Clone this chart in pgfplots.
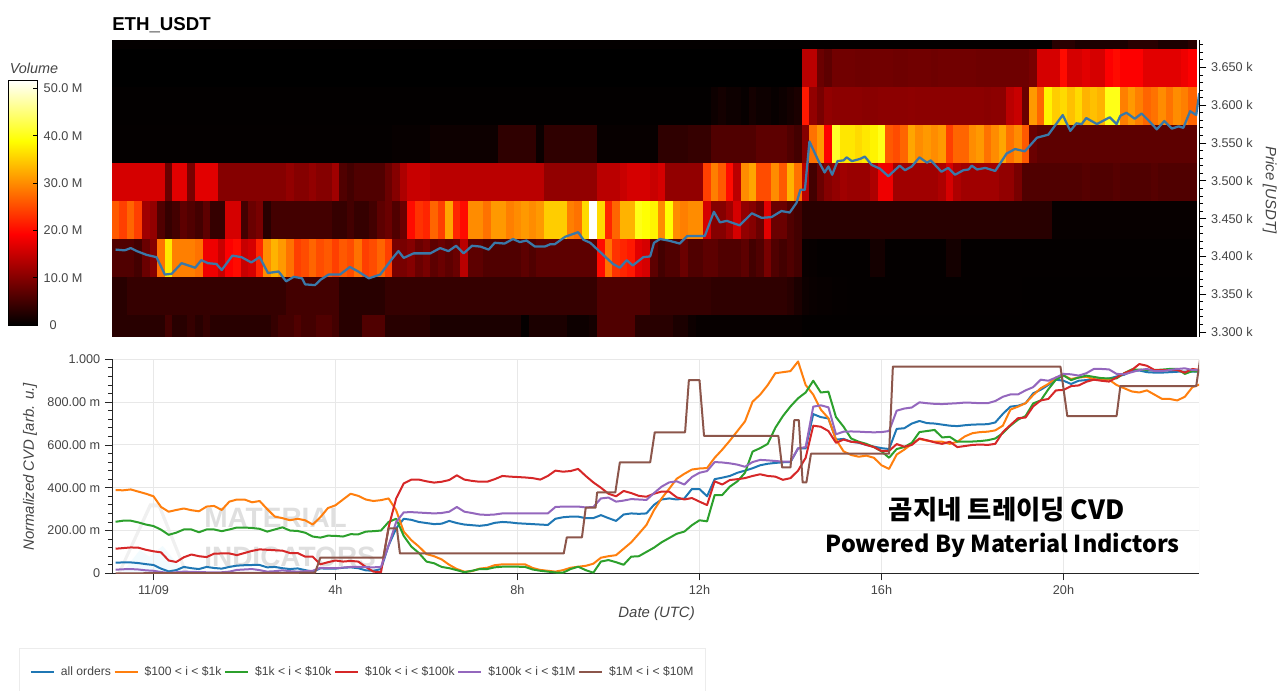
\documentclass[border=0pt]{standalone}
\usepackage{pgfplots}
\usepackage{pgfplotstable}
\pgfplotsset{compat=1.18}
\usepackage{fontspec}
\setmainfont{Liberation Sans}
\newfontfamily\krfont{Noto Sans CJK KR}
\definecolor{txt}{HTML}{444444}
\definecolor{gridc}{HTML}{E8E8E8}
\definecolor{cblue}{HTML}{1F77B4}
\definecolor{corange}{HTML}{FF7F0E}
\definecolor{cgreen}{HTML}{2CA02C}
\definecolor{cred}{HTML}{D62728}
\definecolor{cpurple}{HTML}{9467BD}
\definecolor{cbrown}{HTML}{8C564B}
\definecolor{cprice}{HTML}{3A78A8}
\pgfdeclareplotmark{cell}{\pgfpathrectangle{\pgfpoint{-2.85pt}{-14.2pt}}{\pgfpoint{5.7pt}{28.4pt}}\pgfusepathqfillstroke}
\pgfdeclareplotmark{cellT}{\pgfpathrectangle{\pgfpoint{-2.85pt}{-3.5pt}}{\pgfpoint{5.7pt}{7pt}}\pgfusepathqfillstroke}
\pgfdeclareplotmark{cellH}{\pgfpathrectangle{\pgfpoint{-2.85pt}{-8pt}}{\pgfpoint{5.7pt}{16pt}}\pgfusepathqfillstroke}
\newcommand{\tl}{\fontsize{9.5}{11}\selectfont}
\newcommand{\al}{\fontsize{11.2}{13}\selectfont}
\pgfplotsset{colormap={hot}{rgb255(0)=(0,0,0) rgb255(37)=(255,0,0) rgb255(75)=(255,255,0) rgb255(100)=(255,255,255)}}
\pgfplotsset{heatcell/.style={scatter,only marks,mark=cell,mark options={line width=0.2pt},point meta=explicit,scatter/use mapped color={draw=mapped color,fill=mapped color}}}
% heat map: minutes from 11/09 00:00, volume (M) in each price band, top to bottom
\pgfplotstableread{
m T A B C D E F G H
-50 .3 0 .2 .3 16 26 6 3 3
-40 .3 0 .2 .3 16 24 6 3 3
-30 .3 0 .2 .3 16 27 6 4 3
-20 .3 0 .2 .3 16 24 5 4 3
-10 .3 0 .2 .3 16 12 8 4 3
0 .3 0 .2 .3 16 11 10 4 3
10 .3 0 .2 .3 16 6 28 4 3
20 .3 0 .2 .3 8 4 37 4 5
30 .3 0 .2 .3 17 5 29 4 3
40 .3 0 .2 .3 17 7 29 4 3
50 .3 0 .2 .3 9 6 29 4 4
60 .3 0 .2 .3 17 5 28 4 3
70 .3 0 .2 .3 17 7 18 4 4
80 .3 0 .2 .3 17 4 18 4 3
90 .3 0 .2 .3 10 4 15 4 3
100 .3 0 .2 .3 10 16 19 4 3
110 .3 0 .2 .3 10 16 20 4 3
120 .3 0 .2 .3 10 5 15 4 3
130 .3 0 .2 .3 10 8 16 4 3
140 .3 0 .2 .3 10 9 22 4 3
150 .3 0 .2 .3 10 3 30 4 3
160 .3 0 .2 .3 10 5 33 4 4
170 .3 0 .2 .3 10 5 31 4 5
180 .3 0 .2 .3 11 5 28 5 5
190 .3 0 .2 .3 10 5 24 5 6
200 .3 0 .2 .3 10 5 25 5 5
210 .3 0 .2 .3 11 5 27 5 5
220 .3 0 .2 .3 10 5 25 5 6
230 .3 0 .2 .3 10 5 26 5 6
240 .3 0 .2 .3 12 4 24 5 5
250 .3 0 .2 .3 6 4 26 3 3
260 .3 0 .2 .3 5 5 25 3 3
270 .3 0 .2 .3 6 4 28 3 3
280 .3 0 .2 .3 6 4 24 3 6
290 .3 0 .2 .3 6 5 25 3 6
300 .3 0 .2 .3 6 7 27 3 6
310 .3 0 .2 .3 8 8 24 4 3
320 .3 0 .2 .5 10 6 9 4 3
330 .3 0 .2 .5 13 8 9 4 3
340 .3 0 .2 .5 15 20 10 4 3
350 .3 0 .2 .5 15 23 8 4 3
360 .3 0 .2 .5 15 22 9 4 3
370 .3 0 .2 1 14 27 7 4 2
380 .3 0 .2 1 14 24 8 4 2
390 .3 0 .2 1 14 32 7 4 2
400 .3 0 .2 1 14 22 8 4 2
410 .3 0 .2 1 14 20 14 4 2
420 .3 0 .2 1 14 30 7 4 2
430 .3 0 .2 1 14 30 7 4 2
440 .3 0 .2 1 14 28 6 4 2
450 .3 0 .2 1 14 31 6 4 2
460 .3 0 .2 3.5 14 31 6 4 2
470 .3 0 .2 3.5 14 29 6 4 2
480 .3 0 .2 3.5 14 30 6 4 2
490 .3 0 .2 3.5 14 31 7 4 .3
500 .3 0 .2 3.5 14 30 6 4 2
510 .3 0 .2 .8 14 31 7 4 2
520 .3 0 .2 3.5 11 35 7 4 2
530 .3 0 .2 3.5 11 35 7 4 2
540 .3 0 .2 3.5 11 35 7 4 2
550 .3 0 .2 3.5 11 29 7 4 1
560 .3 0 .2 3.5 11 28 7 4 1
570 .3 0 .2 3.5 11 36 7 4 1
580 .3 0 .2 3.5 11 52 7 4 1.5
590 .3 0 .2 .5 14 36 20 6 6
600 .3 0 .2 .5 14 22 28 6 6
610 .3 0 .2 .5 14 27 23 6 6
620 .3 0 .2 .5 15 33 22 6 6
630 .3 0 .2 .5 16 33 21 6 6
640 .3 0 .2 .5 16 40 17 6 3
650 .3 0 .2 .5 16 39 16 6 3
660 .3 0 .2 .5 15 38 7 4 3
670 .3 0 .2 3.5 16 30 5 4 3
680 .3 0 .2 3.5 11 39 6 4 3
690 .3 0 .2 3.5 11 30 6 4 2
700 .3 0 .2 3.5 11 29 8 4 2
710 .3 0 .2 4 11 30 6 4 1
720 .3 0 .2 4 11 30 6 4 .5
730 .3 0 .2 4 24 16 7 4 .5
740 .3 0 1 6 29 10 7 3.5 .5
750 .3 0 1.5 6 26 10 6 3.5 .5
760 .3 0 1 6 20 12 6 3.5 .5
770 .3 0 1 6 14 16 6 3.5 .5
780 .3 0 .5 6 30 11 7 3.5 .5
790 .3 0 1.5 6 32 10 5 3.5 .5
800 .3 0 1 7 25 8 6 3.5 .5
810 .3 0 1 7 25 17 9 3.5 .5
820 .3 0 .5 7 30 8 6 3.5 .5
830 .3 0 1 7 26 8 5 3.5 .5
840 .3 0 1.5 6 33 6 6 3 .5
850 .3 0 2 5 28 5 5 2 .5
860 .3 14 21 10 14 3 .7 1 .2
870 .3 14 11 28 5 3 .5 .7 .2
880 .3 8 9 31 8 3 .3 .5 .2
890 .3 7 11 19 10 3 .3 .5 .2
900 .3 8.5 10.5 41 11 3 .3 .4 .2
910 .3 8.5 10.5 37 12 3 .3 .4 .2
920 .3 8.5 10.5 37 11.5 3 .3 .3 .2
930 .3 8.3 10.5 36 11.5 3 .3 .3 .2
940 .3 8.3 10.3 37 11.5 3 .3 .3 .2
950 .3 8.5 10.3 38 13 3 1.5 .3 .2
960 .3 8.5 10.5 40 18 3 1.5 .3 .2
970 .3 8.5 10.5 26 18 3 .3 .3 .2
980 .3 8.3 10.5 25 12 3 .3 .3 .2
990 .3 8.3 10.5 27 12 3 .3 .3 .2
1000 .3 8.5 10.7 32 12 3 .3 .3 .2
1010 .3 8.5 10.5 30 12 3 .3 .3 .2
1020 .3 8.5 10.5 31 12 3 .3 .3 .2
1030 .3 8.3 10.5 30 12 3 .3 .3 .2
1040 .3 8.5 10.5 31 13 3 .3 .3 .2
1050 .3 8.5 10.5 24 16 3 1.5 .3 .2
1060 .3 8.5 10.5 27 13 3 1.5 .3 .2
1070 .3 8.5 10.5 27 12 3 .3 .3 .2
1080 .3 8.5 10.5 30 12 3 .3 .3 .2
1090 .3 8.3 10.5 31 12 3 .3 .3 .2
1100 .3 8.3 10.3 28 12 3 .3 .3 .2
1110 .3 8.3 10.5 30 12 3 .3 .3 .2
1120 .3 8.3 10.5 32 11 3 .3 .3 .2
1130 .3 8.3 14 28 11 3 .3 .3 .2
1140 .3 8.3 15 30 9 3 .3 .3 .2
1150 .3 8.3 8 26 6 3 .3 .2 .2
1160 .3 9 31 8 6 3 .3 .2 .2
1170 .3 16 27 7 6 3 .3 .2 .2
1180 .3 16 38 7 6 3 .3 .2 .2
1190 3 16 35 7 6 .5 .3 .2 .2
1200 3 20 36 7 6 .5 .3 .2 .2
1210 3 16 34 7 6 .5 .3 .2 .2
1220 2 16 36 7 6 .5 .3 .2 .2
1230 2 17 33 7 6.5 .5 .3 .2 .2
1240 2 16 34 7 6 .5 .3 .2 .2
1250 2 16 33 7 6 .5 .3 .2 .2
1260 2 19 40 7 6 .5 .3 .2 .2
1270 2 20 40 7 6.5 .5 .3 .2 .2
1280 2 19 29 7 6 .5 .3 .2 .2
1290 3 19 31 7 6 .5 .3 .2 .2
1300 3 19 29 7 6 .5 .3 .2 .2
1310 3 17 27 7 6 .5 .3 .2 .2
1320 3 17 28 7 6.5 .5 .3 .2 .2
1330 2 17 30 7 6 .5 .3 .2 .2
1340 2 17 28 7 6 .5 .3 .2 .2
1350 2 17 30 7 6 .5 .3 .2 .2
1360 2 18 29 7 6 .5 .3 .2 .2
1370 3 19 27 7 6 .5 .3 .2 .2
}\heat
% normalized CVD (milli units)
\pgfplotstableread{
m b o g r p
-50 50 389 241 115 17
-40 51 388 246 118 19
-30 51 392 246 121 20
-20 48 382 238 120 18
-10 43 372 228 110 14
0 39 360 221 103 12
10 22 310 204 98 6
20 9 288 180 60 2
30 15 296 190 53 5
40 30 303 205 75 8
50 24 295 205 88 7
60 20 290 192 80 6
70 30 312 205 76 5
80 25 315 205 92 5
90 22 296 197 93 5
100 30 335 205 93 8
110 36 345 214 85 16
120 38 345 214 95 18
130 39 332 212 105 20
140 39 338 208 112 15
150 28 300 195 110 8
160 30 265 205 108 10
170 24 258 215 106 14
180 20 248 200 95 10
190 23 255 198 95 8
200 15 248 190 78 10
210 8 228 172 78 12
220 23 262 167 42 26
230 22 305 176 52 24
240 22 318 175 60 24
250 26 345 172 55 27
260 28 372 183 58 30
270 24 362 182 55 30
280 14 345 195 30 29
290 12 338 197 8 28
300 20 342 200 5 30
310 130 350 240 215 130
320 210 295 255 350 240
330 255 195 175 420 285
340 250 155 125 438 286
350 240 125 95 438 284
360 235 90 55 430 282
370 230 80 47 424 280
380 232 65 30 428 282
390 245 40 24 436 288
400 235 20 15 458 310
410 228 8 5 438 288
420 225 10 12 432 282
430 222 22 20 428 275
440 226 26 20 428 273
450 236 38 28 440 275
460 240 42 31 455 280
470 238 42 31 452 280
480 234 42 31 450 280
490 232 42 30 448 280
500 230 25 18 445 280
510 228 16 12 438 280
520 226 12 8 455 280
530 255 8 4 480 310
540 262 15 3 475 312
550 265 26 20 478 312
560 265 31 31 488 312
570 258 35 15 455 308
580 258 45 3 425 310
590 272 73 55 400 350
600 258 80 62 372 354
610 245 85 52 360 335
620 275 115 40 385 340
630 280 145 78 375 347
640 278 185 80 362 345
650 280 226 100 358 343
660 320 295 120 372 375
670 345 350 145 382 405
680 350 395 165 382 425
690 345 442 185 355 430
700 350 465 195 345 415
710 394 485 225 352 450
720 394 490 248 335 470
730 360 492 243 319 478
740 440 540 366 430 520
750 447 578 366 415 518
760 455 620 405 436 514
770 470 665 430 440 508
780 480 710 470 445 498
790 491 802 569 455 520
800 505 835 585 463 530
810 512 880 605 455 528
820 516 935 680 452 525
830 519 940 735 437 522
840 520 945 780 445 522
850 584 990 818 480 584
860 584 880 845 540 590
870 744 835 900 690 779
880 730 765 845 685 785
890 724 725 849 665 776
900 625 625 730 610 650
910 628 570 685 625 662
920 615 553 630 615 663
930 610 545 615 612 662
940 600 550 605 600 660
950 592 540 590 590 659
960 585 505 570 572 660
970 581 488 540 572 665
980 675 555 581 604 760
990 678 578 590 592 770
1000 700 605 610 600 775
1010 712 628 660 630 799
1020 702 620 665 622 795
1030 700 615 670 612 792
1040 695 615 635 605 791
1050 690 605 638 615 793
1060 688 615 615 590 795
1070 692 640 615 595 798
1080 695 655 616 600 797
1090 696 660 618 602 795
1100 697 662 622 600 795
1110 705 668 630 605 805
1120 745 690 655 660 825
1130 779 765 690 693 836
1140 783 779 718 725 836
1150 795 795 735 728 855
1160 841 833 794 780 870
1170 858 865 808 808 905
1180 880 885 860 815 900
1190 905 915 905 855 915
1200 900 925 925 857 932
1210 885 908 903 875 930
1220 900 915 915 878 924
1230 903 918 924 895 935
1240 905 908 918 905 955
1250 907 903 912 900 955
1260 910 905 911 896 953
1270 920 880 911 915 932
1280 928 865 935 935 930
1290 945 850 953 950 940
1300 948 845 952 978 950
1310 940 855 950 970 955
1320 938 835 950 950 945
1330 938 815 952 950 945
1340 940 815 955 950 950
1350 942 808 955 950 955
1360 943 825 932 938 958
1370 942 870 945 955 950
1380 942 883 942 950 950
}\cvd
\begin{document}
\begin{tikzpicture}[x=1pt,y=1pt]
\useasboundingbox (0,0) rectangle (960,517.5);
% watermark and legend frame
\fill[gray!12] (88,87.5) -- (112,140) -- (120,140) -- (141,87.5) -- cycle;
\fill[white] (91,88.5) -- (113.5,137) -- (118.5,137) -- (138,88.5) -- cycle;
\fill[black!4!cyan!5] (92,88.5) -- (105,105) -- (112,100) -- (122,108) -- (138,88.5) -- cycle;
\node[anchor=west,text=gray!25,inner sep=0pt,font=\bfseries\fontsize{21}{21}\selectfont] at (153,129) {MATERIAL};
\node[anchor=west,text=gray!25,inner sep=0pt,font=\bfseries\fontsize{21}{21}\selectfont] at (153,100) {INDICATORS};
\draw[gray!15,line width=0.6pt] (14.25,-2) -- (14.25,31.5) -- (528.75,31.5) -- (528.75,-2);
% ---- colour bar
\begin{axis}[
  at={(6.2pt,273.75pt)},anchor=south west,scale only axis,
  width=22.05pt,height=183.75pt,
  xmin=0,xmax=1,ymin=0,ymax=51.8,
  xtick=\empty,
  ytick={0,10,20,30,40,50},
  yticklabels={\hspace{4.5pt}0,10.0 M,20.0 M,30.0 M,40.0 M,50.0 M},
  ytick pos=right,yticklabel pos=right,
  tick align=inside,major tick length=3.5pt,
  tick style={black,line width=0.6pt},
  axis line style={black,line width=0.6pt},
  yticklabel style={font=\tl,text=txt,anchor=west,xshift=1pt},
  title={\itshape Volume},
  title style={at={(axis description cs:0,1)},anchor=south west,inner xsep=1pt,inner ysep=2pt,yshift=-3.75pt,font=\fontsize{10.8}{13}\selectfont,text=txt},
  axis on top,
  point meta min=0,point meta max=51.8,
]
\addplot[surf,shader=interp,mesh/cols=2,point meta=y] coordinates {
(0,0)(1,0)(0,19.17)(1,19.17)(0,38.85)(1,38.85)(0,51.8)(1,51.8)};
\end{axis}
% ---- heat map
\begin{axis}[
  at={(84pt,264.75pt)},anchor=south west,scale only axis,
  width=815.25pt,height=222.75pt,
  xmin=-54.7,xmax=1378.7,ymin=3293.4,ymax=3686.2,
  axis x line=none,axis y line*=right,
  axis line style={black,line width=0.75pt,-},
  tick style={black,line width=0.6pt},
  tick align=outside,major tick length=5.5pt,minor tick length=3pt,
  ytick={3300,3350,3400,3450,3500,3550,3600,3650},
  yticklabels={3.300 k,3.350 k,3.400 k,3.450 k,3.500 k,3.550 k,3.600 k,3.650 k},
  minor ytick={3310,3320,...,3680},
  tick label style={font=\tl,text=txt},
  ylabel={\itshape Price [USDT]},
  ylabel style={at={(axis description cs:1.065,0.495)},rotate=180,anchor=center,font=\al,text=txt},
  title={\bfseries ETH\_USDT},
  title style={at={(axis description cs:0,1)},anchor=south west,inner xsep=0pt,yshift=-4pt,font=\fontsize{14}{16}\selectfont},
  point meta min=0,point meta max=51.8,
]
\addplot[heatcell,mark=cellT] table[x=m,y expr=3680.4,meta=T]{\heat};
\addplot[heatcell] table[x=m,y expr=3649,meta=A]{\heat};
\addplot[heatcell] table[x=m,y expr=3598.7,meta=B]{\heat};
\addplot[heatcell] table[x=m,y expr=3548.4,meta=C]{\heat};
\addplot[heatcell] table[x=m,y expr=3498,meta=D]{\heat};
\addplot[heatcell] table[x=m,y expr=3447.9,meta=E]{\heat};
\addplot[heatcell] table[x=m,y expr=3397.6,meta=F]{\heat};
\addplot[heatcell] table[x=m,y expr=3347.4,meta=G]{\heat};
\addplot[heatcell,mark=cellH] table[x=m,y expr=3308,meta=H]{\heat};
\end{axis}
% ---- price line over the heat map
\begin{axis}[
  at={(84pt,264.75pt)},anchor=south west,scale only axis,
  width=815.25pt,height=222.75pt,
  xmin=-54.7,xmax=1378.7,ymin=3293.4,ymax=3686.2,
  hide axis,
]
\addplot[cprice,line width=1.7pt,no markers,line join=round] coordinates {
(-50,3409)(-38,3408)(-30,3411)(-22,3407)(-9,3402)(4,3399)(15,3376)(24,3377)(37,3391)(46,3388)(55,3385)(63,3395)(72,3391)(83,3390)(90,3382)(104,3401)(116,3399)(129,3392)(140,3399)(151,3378)(165,3380)(175,3367)(185,3373)(196,3371)(200,3363)(213,3362)(220,3369)(231,3376)(246,3376)(259,3386)(270,3380)(284,3371)(299,3376)(314,3396)(323,3407)(330,3398)(343,3404)(365,3404)
(378,3411)(389,3407)(399,3414)(409,3404)(420,3414)(431,3413)(442,3409)(450,3418)(463,3417)(474,3423)(483,3419)(492,3421)(503,3413)(516,3413)(523,3416)(529,3416)(543,3426)(560,3432)(567,3422)(576,3418)(593,3402)(606,3390)(615,3385)(624,3395)(632,3388)(646,3399)(655,3400)(660,3418)(668,3423)(679,3421)(694,3417)(704,3427)(727,3427)(739,3459)(747,3445)(756,3447)(773,3441)(789,3457)(802,3451)(815,3452)(828,3460)(839,3458)(848,3471)(853,3488)(859,3488)(865,3552)(877,3526)(885,3511)(890,3519)(895,3508)(902,3526)(910,3527)(914,3531)(921,3526)(932,3529)
(938,3532)(947,3521)(958,3516)(969,3506)(984,3520)(991,3514)(1000,3519)(1010,3531)(1020,3524)(1025,3527)(1039,3512)(1048,3517)(1057,3508)(1068,3514)(1075,3515)(1079,3520)(1086,3515)(1097,3517)(1110,3513)(1125,3536)(1136,3542)(1149,3539)(1165,3557)(1180,3561)(1191,3576)(1199,3587)(1209,3566)(1217,3576)(1224,3575)(1230,3583)(1244,3575)(1261,3584)(1270,3575)(1275,3586)(1283,3590)(1294,3582)(1303,3589)(1312,3580)(1323,3568)(1333,3579)(1343,3569)(1352,3572)(1358,3570)(1367,3592)(1375,3587)(1379,3616)};
\end{axis}
% ---- CVD
\begin{axis}[
  at={(84pt,87.5pt)},anchor=south west,scale only axis,
  width=815.25pt,height=160.5pt,
  xmin=-54.7,xmax=1378.7,ymin=0,ymax=1000,
  axis x line*=bottom,axis y line*=left,
  axis line style={black!85,line width=0.75pt,-},
  tick style={black!85,line width=0.6pt},
  tick align=outside,major tick length=5.25pt,minor tick length=3pt,
  xtick={0,240,480,720,960,1200},
  xticklabels={11/09,4h,8h,12h,16h,20h},
  ytick={0,200,400,600,800,1000},
  yticklabels={0,200.00 m,400.00 m,600.00 m,800.00 m,1.000},
  minor y tick num=4,
  grid=major,grid style={gridc,line width=0.75pt},
  tick label style={font=\tl,text=txt},
  xlabel={\itshape Date (UTC)},
  xlabel style={at={(axis description cs:0.501,-0.186)},anchor=center,font=\al,text=txt},
  ylabel={\itshape Normalized CVD [arb. u.]},
  ylabel style={at={(axis description cs:-0.0754,0.497)},anchor=center,font=\al,text=txt},
  legend columns=6,
  legend style={at={(axis description cs:-0.0757,-0.461)},anchor=west,draw=none,fill=none,
    font=\fontsize{9.1}{11}\selectfont,text=txt,inner sep=0pt,
    /tikz/every even column/.append style={column sep=0pt},
    /tikz/every odd column/.append style={column sep=2.5pt}},
  legend image code/.code={\draw[#1] (0,0) -- (17.25pt,0);},
  every axis plot/.append style={line width=1.5pt,no markers,line join=round},
]
\addplot[cblue] table[x=m,y=b]{\cvd};
\addplot[corange] table[x=m,y=o]{\cvd};
\addplot[cgreen] table[x=m,y=g]{\cvd};
\addplot[cred] table[x=m,y=r]{\cvd};
\addplot[cpurple] table[x=m,y=p]{\cvd};
\addplot[cbrown] coordinates {(-50,0)(213,3)(220,73)(303,73)(310,210)(321,210)(325,93)(541,93)(545,168)(565,168)(570,307)(583,307)(585,378)(609,378)(615,519)(655,519)(661,659)(701,659)(706,903)(720,903)(726,642)(824,642)(829,495)(840,495)(845,716)(851,716)(856,425)(861,425)(867,559)(970,559)(975,966)(1196,966)(1205,735)(1270,735)(1275,875)(1375,875)(1380,997)};
\legend{all orders,\$100 < i < \$1k,\$1k < i < \$10k,\$10k < i < \$100k,\$100k < i < \$1M,\$1M < i < \$10M}
\draw[gridc,line width=0.75pt] (rel axis cs:1,0) -- (rel axis cs:1,1);
\end{axis}
\node[anchor=center,inner sep=0pt,font=\krfont\bfseries\fontsize{19.8}{22}\selectfont] at (755,135) {곰지네 트레이딩 CVD};
\node[anchor=center,inner sep=0pt,font=\krfont\bfseries\fontsize{17.5}{20}\selectfont] at (752,108.5) {Powered By Material Indictors};
\end{tikzpicture}
\end{document}
